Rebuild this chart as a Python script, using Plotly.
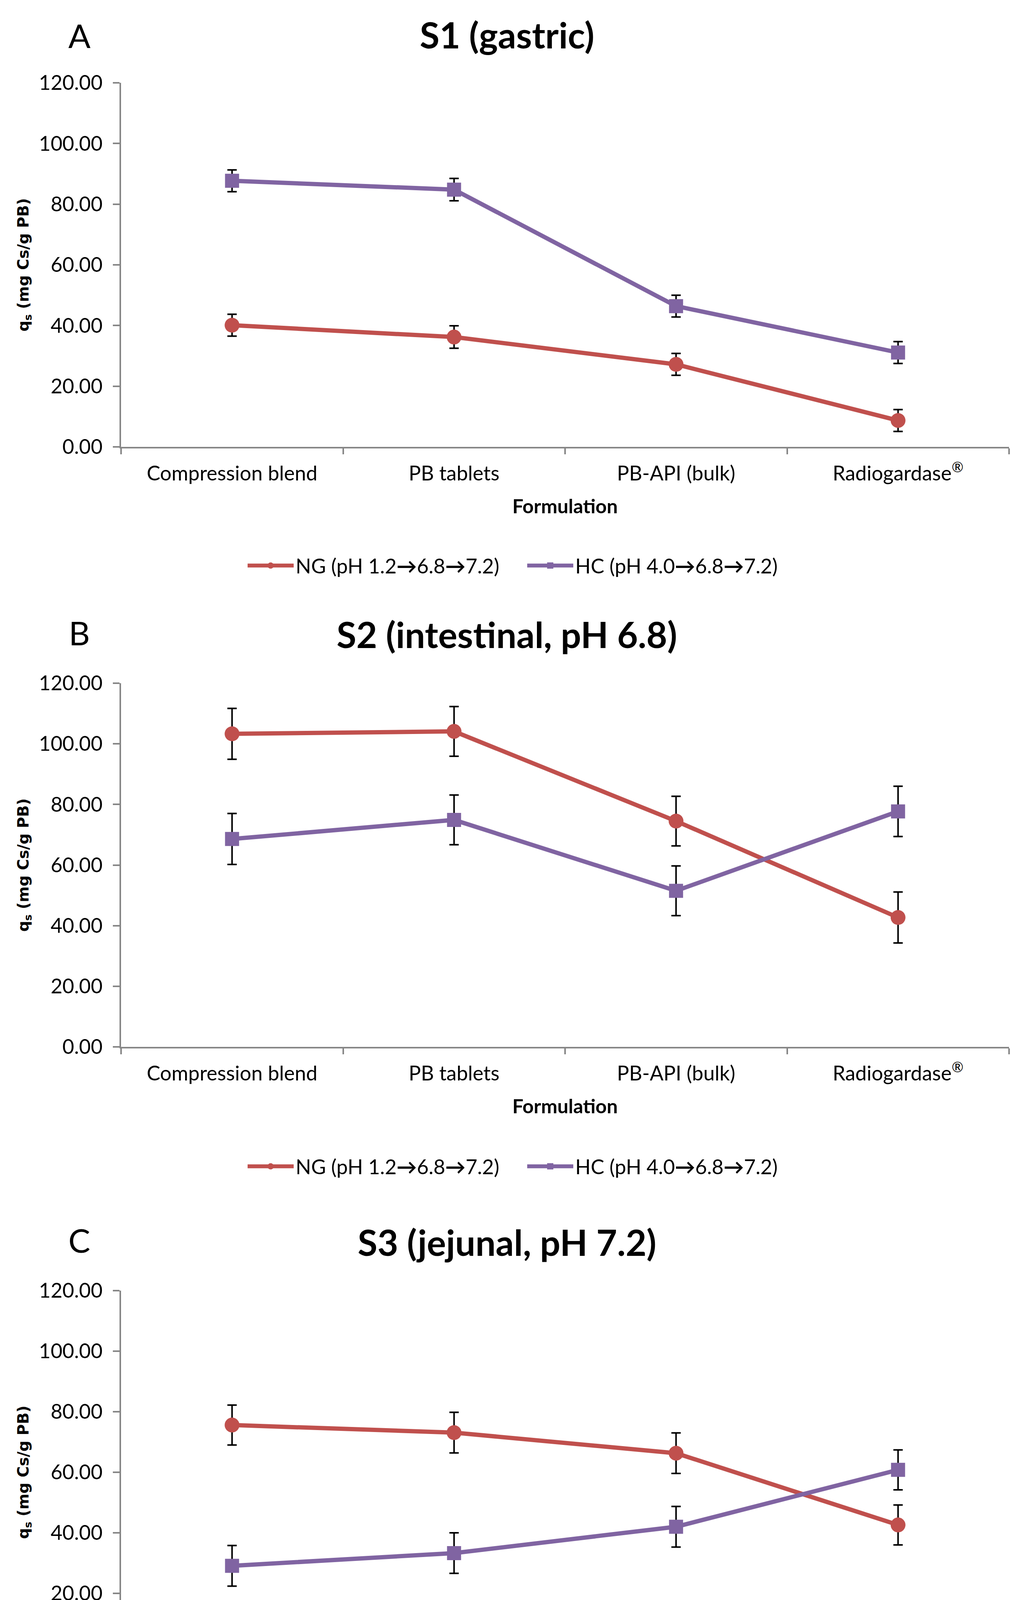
import plotly.graph_objects as go

categories = ["Compression blend", "PB tablets", "PB-API (bulk)", "Radiogardase<sup>®</sup>"]

# Panel A: S1 (gastric)
s1_ng = [40.1, 36.2, 27.2, 8.7]
s1_ng_err = [3.6, 3.7, 3.6, 3.6]
s1_hc = [87.7, 84.8, 46.4, 31.1]
s1_hc_err = [3.6, 3.7, 3.6, 3.6]

# Panel B: S2 (intestinal, pH 6.8)
s2_ng = [103.3, 104.1, 74.5, 42.7]
s2_ng_err = [8.4, 8.2, 8.2, 8.4]
s2_hc = [68.6, 74.9, 51.5, 77.7]
s2_hc_err = [8.4, 8.2, 8.2, 8.3]

# Panel C: S3 (jejunal, pH 7.2)
s3_ng = [75.6, 73.1, 66.3, 42.6]
s3_ng_err = [6.6, 6.7, 6.7, 6.6]
s3_hc = [29.1, 33.3, 42.0, 60.8]
s3_hc_err = [6.7, 6.7, 6.7, 6.6]

series_names = ["NG (pH 1.2<b>→</b>6.8<b>→</b>7.2)", "HC (pH 4.0<b>→</b>6.8<b>→</b>7.2)"]
panel_letters = ["A", "B", "C"]
panel_titles = ["S1 (gastric)", "S2 (intestinal, pH 6.8)", "S3 (jejunal, pH 7.2)"]
y_ticks = [0, 20, 40, 60, 80, 100, 120]
x_title = "Formulation"
y_title = "q<sub>s</sub> (mg Cs/g PB)"

RED = "#C0504D"
PURPLE = "#8064A2"
AXIS = "#868686"
FONT = "Lato"

W, H = 2653, 4597

panels = [
    (s1_ng, s1_ng_err, s1_hc, s1_hc_err),
    (s2_ng, s2_ng_err, s2_hc, s2_hc_err),
    (s3_ng, s3_ng_err, s3_hc, s3_hc_err),
]

plot_px = [(212, 1144), (1749, 2680), (3304, 4234)]
letter_px = [90, 1619, 3174]
title_px = [88, 1624, 3179]
legend_px = [1448, 2986, 4540]
x_left, x_right = 310, 2584

def py(p):
    return 1 - p / H

fig = go.Figure()
layout = dict(
    width=W, height=H,
    margin=dict(l=0, r=0, t=0, b=0, autoexpand=False),
    paper_bgcolor="white", plot_bgcolor="white",
    font=dict(family=FONT, size=52, color="black"),
    annotations=[],
)

for i, (ng, ng_e, hc, hc_e) in enumerate(panels):
    n = "" if i == 0 else str(i + 1)
    leg = "legend" if i == 0 else f"legend{i + 1}"
    fig.add_trace(go.Scatter(
        x=categories, y=ng, name=series_names[0], mode="lines+markers",
        line=dict(color=RED, width=11),
        marker=dict(symbol="circle", size=38, color=RED),
        error_y=dict(type="data", array=ng_e, visible=True, color="black", thickness=4, width=12),
        xaxis="x" + n, yaxis="y" + n, legend=leg,
    ))
    fig.add_trace(go.Scatter(
        x=categories, y=hc, name=series_names[1], mode="lines+markers",
        line=dict(color=PURPLE, width=11),
        marker=dict(symbol="square", size=36, color=PURPLE),
        error_y=dict(type="data", array=hc_e, visible=True, color="black", thickness=4, width=12),
        xaxis="x" + n, yaxis="y" + n, legend=leg,
    ))
    top, bot = plot_px[i]
    layout["xaxis" + n] = dict(
        domain=[x_left / W, x_right / W], anchor="y" + n, automargin=False,
        type="category", categoryorder="array", categoryarray=categories,
        range=[-0.5, 3.5], tickson="boundaries",
        showline=True, linecolor=AXIS, linewidth=4,
        ticks="outside", ticklen=15, tickwidth=4, tickcolor=AXIS,
        showgrid=False, zeroline=False,
        tickfont=dict(family=FONT, size=52, color="black"),
        ticklabelstandoff=20,
        title=dict(text="<b>" + x_title + "</b>", font=dict(family=FONT, size=50, color="black"), standoff=40),
    )
    layout["yaxis" + n] = dict(
        domain=[py(bot), py(top)], anchor="x" + n, automargin=False,
        range=[0, 120], tickvals=y_ticks, tickformat=".2f",
        showline=True, linecolor=AXIS, linewidth=4,
        ticks="outside", ticklen=17, tickwidth=4, tickcolor=AXIS,
        showgrid=False, zeroline=False,
        tickfont=dict(family=FONT, size=52, color="black"),
        ticklabelstandoff=16,
        title=dict(text="<b>" + y_title + "</b>", font=dict(family="DejaVu Sans", size=39, color="black"), standoff=15),
    )
    layout[leg] = dict(
        orientation="h", x=0.507, xanchor="center", y=py(legend_px[i]), yanchor="middle",
        font=dict(family=FONT, size=52, color="black"), itemwidth=118, entrywidth=583,
        bgcolor="rgba(0,0,0,0)",
    )
    layout["annotations"].append(dict(
        text=panel_letters[i], xref="paper", yref="paper", x=203 / W, y=py(letter_px[i]),
        xanchor="center", yanchor="middle", showarrow=False,
        font=dict(family=FONT, size=84, color="black"),
    ))
    layout["annotations"].append(dict(
        text="<b>" + panel_titles[i] + "</b>", xref="paper", yref="paper", x=1298 / W, y=py(title_px[i]),
        xanchor="center", yanchor="middle", showarrow=False,
        font=dict(family=FONT, size=92, color="black"),
    ))

fig.update_layout(**layout)
fig.write_html(
    "out.html",
    config={"displayModeBar": False},
    post_script="document.body.style.margin='0';document.body.style.overflow='hidden';",
)
